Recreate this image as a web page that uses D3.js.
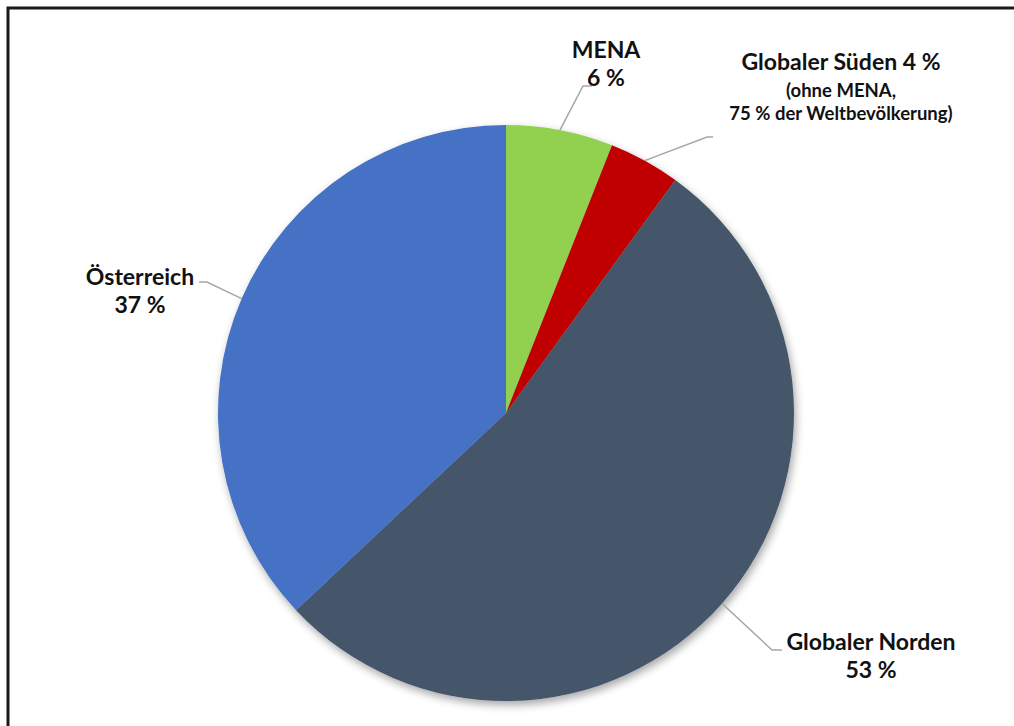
<!DOCTYPE html>
<html>
<head>
<meta charset="utf-8">
<script src="https://cdn.jsdelivr.net/npm/d3@7"></script>
<style>
  html, body { margin: 0; padding: 0; background: #fff; }
  svg { display: block; }
  text { font-family: Lato, "Open Sans", sans-serif; font-weight: 700; fill: #111; }
</style>
</head>
<body>
<svg id="chart" width="1014" height="726"></svg>
<script>
// Shares by region, clockwise from 12 o'clock
const regions = ["MENA", "Globaler Süden", "Globaler Norden", "Österreich"];
const shares = [6, 4, 53, 37];
const colors = ["#92D050", "#C00000", "#44546A", "#4472C4"];

// Label lines per slice (first line large, following lines small)
const labelMain = [["MENA", "6 %"], ["Globaler Süden 4 %"], ["Globaler Norden", "53 %"], ["Österreich", "37 %"]];
const labelSub = [[], ["(ohne MENA,", "75 % der Weltbevölkerung)"], [], []];

const W = 1014, H = 726;
const cx = 506, cy = 413, R = 288;

const svg = d3.select("#chart");

// Frame
svg.append("rect")
  .attr("x", 8).attr("y", 8)
  .attr("width", W + 20).attr("height", H + 20)
  .attr("fill", "none").attr("stroke", "#1a1a1a").attr("stroke-width", 3);

// Soft drop shadow under the pie
const defs = svg.append("defs");
const f = defs.append("filter").attr("id", "shadow")
  .attr("x", "-10%").attr("y", "-10%").attr("width", "120%").attr("height", "120%");
f.append("feDropShadow").attr("dx", 2).attr("dy", 4).attr("stdDeviation", 4)
  .attr("flood-color", "#000").attr("flood-opacity", 0.35);

const data = regions.map((r, i) => ({ region: r, value: shares[i], color: colors[i], main: labelMain[i], sub: labelSub[i] }));

const pie = d3.pie().value(d => d.value).sort(null);
const arc = d3.arc().innerRadius(0).outerRadius(R);
const arcs = pie(data);

const g = svg.append("g").attr("transform", `translate(${cx},${cy})`);
g.append("g").attr("filter", "url(#shadow)")
  .selectAll("path").data(arcs).join("path")
  .attr("d", arc)
  .attr("fill", d => d.data.color);

// Label placement: elbow point, end of leader, text anchor (center x, first baseline)
const labelPos = [
  { elbow: [583, 86], end: [592, 86], tx: 606, ty: 58 },
  { elbow: [707, 137], end: [713, 137], tx: 841, ty: 70 },
  { elbow: [772, 650], end: [782, 650], tx: 871, ty: 650 },
  { elbow: [207, 282], end: [199, 282], tx: 140, ty: 285 }
];

const leaders = svg.append("g");
const labels = svg.append("g");

arcs.forEach((a, i) => {
  const mid = (a.startAngle + a.endAngle) / 2;
  const sx = cx + Math.sin(mid) * R;
  const sy = cy - Math.cos(mid) * R;
  const p = labelPos[i];
  leaders.append("polyline")
    .attr("points", [[sx, sy], p.elbow, p.end].map(q => q.join(",")).join(" "))
    .attr("fill", "none").attr("stroke", "#a6a6a6").attr("stroke-width", 1.5);

  const t = labels.append("text").attr("text-anchor", "middle");
  let y = p.ty;
  a.data.main.forEach((line, k) => {
    t.append("tspan").attr("x", p.tx).attr("y", y).attr("font-size", 23).text(line);
    y += 28;
  });
  y = p.ty + 27;
  a.data.sub.forEach((line) => {
    t.append("tspan").attr("x", p.tx).attr("y", y).attr("font-size", 18.5).text(line);
    y += 23;
  });
});
</script>
</body>
</html>
